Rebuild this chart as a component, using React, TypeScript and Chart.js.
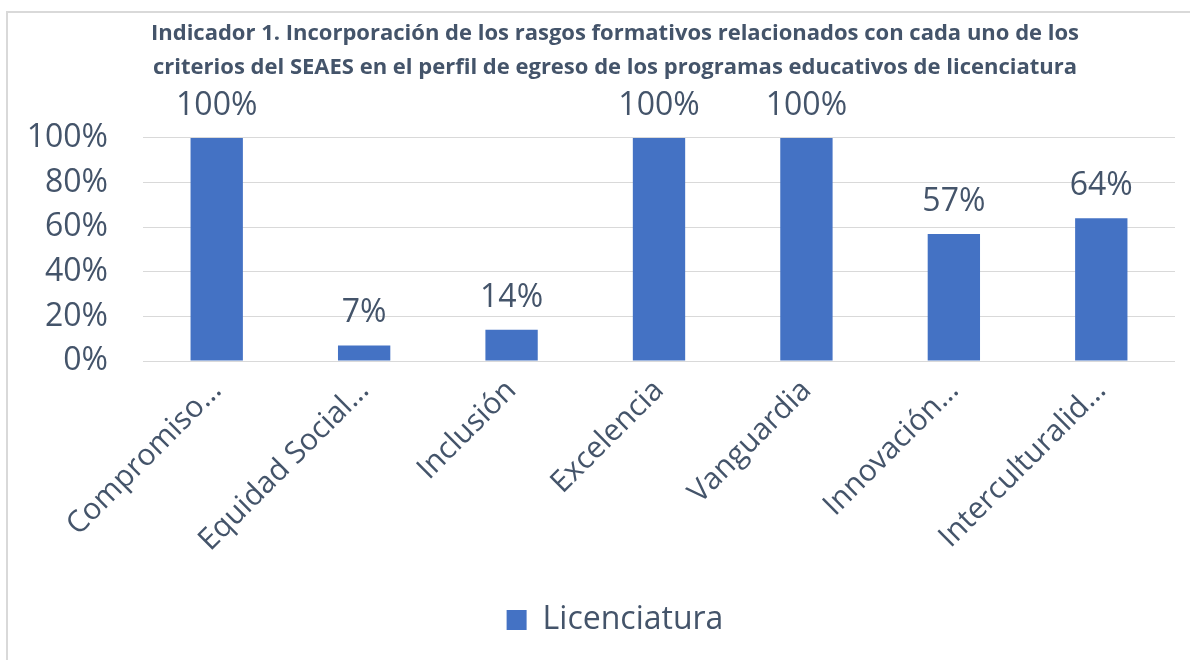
import React, { useEffect, useRef } from "react";
import { Chart, registerables } from "chart.js";

Chart.register(...registerables);

const categories = [
  "Compromiso…",
  "Equidad Social…",
  "Inclusión",
  "Excelencia",
  "Vanguardia",
  "Innovación…",
  "Interculturalid…",
];
const licenciatura = [100, 7, 14, 100, 100, 57, 64];
const yTicks = [0, 20, 40, 60, 80, 100];
const titleLines = [
  "Indicador 1. Incorporación de los rasgos formativos relacionados con cada uno de los",
  "criterios del SEAES en el perfil de egreso de los programas educativos de licenciatura",
];
const seriesName = "Licenciatura";

const TEXT = "#44546A";
const FONT = "'Open Sans', 'Noto Sans', sans-serif";

const dataLabelPlugin = {
  id: "dataLabels",
  afterDatasetsDraw(chart: any) {
    const ctx = chart.ctx;
    const meta = chart.getDatasetMeta(0);
    ctx.save();
    ctx.fillStyle = TEXT;
    ctx.font = `32px ${FONT}`;
    ctx.textAlign = "center";
    ctx.textBaseline = "middle";
    meta.data.forEach((bar: any, i: number) => {
      const v = chart.data.datasets[0].data[i];
      ctx.fillText(`${v}%`, bar.x, bar.y - 32);
    });
    ctx.restore();
  },
};

export default function App() {
  const ref = useRef<HTMLCanvasElement>(null);
  useEffect(() => {
    if (!ref.current) return;
    const chart = new Chart(ref.current, {
      type: "bar",
      data: {
        labels: categories,
        datasets: [
          {
            label: seriesName,
            data: licenciatura,
            backgroundColor: "#4472C4",
            categoryPercentage: 1,
            barPercentage: 0.355,
          },
        ],
      },
      options: {
        responsive: false,
        animation: false,
        layout: { padding: { left: 0, right: 0, top: 0, bottom: 17 } },
        plugins: {
          title: {
            display: true,
            text: titleLines,
            color: TEXT,
            font: { family: FONT, size: 22, weight: "bold", lineHeight: 1.545 },
            padding: { top: 4, bottom: 53 },
          },
          legend: {
            display: true,
            position: "bottom",
            labels: {
              color: TEXT,
              font: { family: FONT, size: 32 },
              boxWidth: 20,
              boxHeight: 20,
              padding: 10,
            },
          },
          tooltip: { enabled: false },
        },
        scales: {
          x: {
            grid: { display: false },
            border: { display: false },
            ticks: {
              color: TEXT,
              font: { family: FONT, size: 30 },
              minRotation: 45,
              maxRotation: 45,
              autoSkip: false,
              padding: 4,
            },
            afterFit(scale: any) {
              scale.height = 233;
            },
          },
          y: {
            min: 0,
            max: 100,
            afterBuildTicks(scale: any) {
              scale.ticks = yTicks.map((v) => ({ value: v }));
            },
            grid: { color: "#D9D9D9", lineWidth: 1, drawTicks: false },
            border: { display: false },
            ticks: {
              color: TEXT,
              font: { family: FONT, size: 32 },
              padding: 35,
              callback: (v: any) => `${v}%`,
            },
            afterFit(scale: any) {
              scale.width = 135;
            },
          },
          yRight: {
            position: "right",
            display: true,
            grid: { display: false, drawTicks: false },
            border: { display: false },
            ticks: { display: false },
            afterFit(scale: any) {
              scale.width = 47;
            },
          },
        },
      },
      plugins: [dataLabelPlugin],
    });
    return () => chart.destroy();
  }, []);

  return (
    <div
      style={{
        position: "absolute",
        left: 0,
        top: 0,
        width: 1190,
        height: 660,
        overflow: "hidden",
        background: "#fff",
      }}
    >
      <div
        style={{
          position: "absolute",
          left: 6,
          top: 11,
          width: 1216,
          height: 660,
          borderLeft: "2px solid #D9D9D9",
          borderTop: "2px solid #D9D9D9",
        }}
      >
        <canvas ref={ref} width={1214} height={650} style={{ display: "block" }} />
      </div>
    </div>
  );
}
